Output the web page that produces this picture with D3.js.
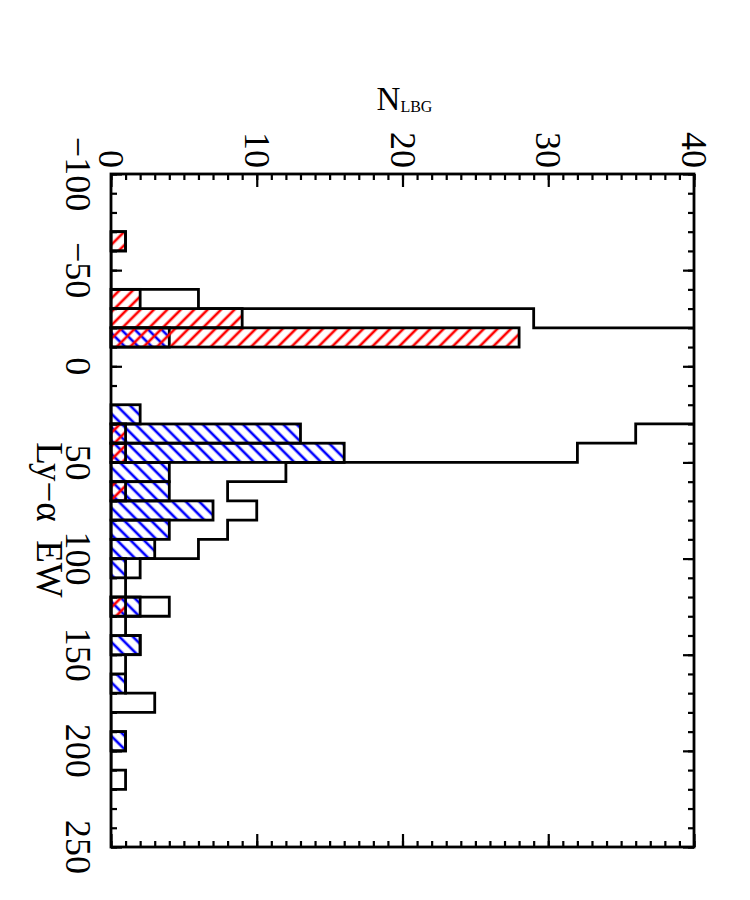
<!DOCTYPE html>
<html lang="en">
<head>
<meta charset="UTF-8">
<title>Ly-alpha EW histogram</title>
<script src="https://d3js.org/d3.v7.min.js"></script>
<style>
    body { margin: 0; background: #fff; }
    text { font-family: "Liberation Serif", "Times New Roman", serif; fill: #000; }
</style>
</head>
<body>
<div id="chart"></div>
<script>
// lower edge of each EW bin (bin width 10)
var binLo = [-70, -60, -50, -40, -30, -20, -10, 0, 10, 20, 30, 40, 50, 60, 70, 80, 90, 100,
             110, 120, 130, 140, 150, 160, 170, 180, 190, 200, 210];
// full sample (values near 0 run off the top of the plot)
var allCounts = [1, 0, 0, 6, 29, 48, 62, 70, 58, 44, 36, 32, 12, 8, 10, 8, 6, 2,
                 1, 4, 1, 2, 1, 1, 3, 0, 1, 0, 1];
var redCounts = [1, 0, 0, 2, 9, 28, 0, 0, 0, 0, 1, 1, 0, 1, 0, 0, 0, 0,
                 0, 1, 0, 0, 0, 0, 0, 0, 0, 0, 0];
var blueCounts = [0, 0, 0, 0, 0, 4, 0, 0, 0, 2, 13, 16, 4, 4, 7, 4, 3, 1,
                  0, 2, 0, 2, 0, 1, 0, 0, 1, 0, 0];
var binWidth = 10;

var ewTicks = [-100, -50, 0, 50, 100, 150, 200, 250];
var nTicks = [0, 10, 20, 30, 40];

var W = 750, H = 900;
var plot = {left: 111, right: 694, top: 174, bottom: 847};

var svg = d3.select("#chart").append("svg")
    .attr("width", W).attr("height", H);

var x = d3.scaleLinear().domain([0, 40]).range([plot.left, plot.right]);
var y = d3.scaleLinear().domain([-100, 250]).range([plot.top, plot.bottom]);

// hatch patterns
var defs = svg.append("defs");
function hatch(id, color, angle) {
    defs.append("pattern")
        .attr("id", id)
        .attr("patternUnits", "userSpaceOnUse")
        .attr("width", 9.5).attr("height", 9.5)
        .attr("patternTransform", "rotate(" + angle + ")")
      .append("line")
        .attr("x1", 4.75).attr("y1", -1).attr("x2", 4.75).attr("y2", 10.5)
        .attr("stroke", color).attr("stroke-width", 2.6);
}
hatch("hatchRed", "#ff0000", 45);
hatch("hatchBlue", "#0000ff", -45);

defs.append("clipPath").attr("id", "plotClip")
  .append("rect")
    .attr("x", plot.left).attr("y", plot.top)
    .attr("width", plot.right - plot.left).attr("height", plot.bottom - plot.top);

var bins = binLo.map(function(b, i) {
    return {lo: b, all: allCounts[i], red: redCounts[i], blue: blueCounts[i]};
});

function drawBars(key, pat) {
    svg.append("g")
        .selectAll("rect")
        .data(bins.filter(function(d) { return d[key] > 0; }))
        .enter()
        .append("rect")
        .attr("x", x(0))
        .attr("y", function(d) { return y(d.lo); })
        .attr("width", function(d) { return x(d[key]) - x(0); })
        .attr("height", function(d) { return y(d.lo + binWidth) - y(d.lo); })
        .attr("fill", "url(#" + pat + ")")
        .attr("stroke", "#000")
        .attr("stroke-width", 2.8);
}
drawBars("blue", "hatchBlue");
drawBars("red", "hatchRed");

// full sample as a step outline
var pts = [[x(0), y(binLo[0])]];
bins.forEach(function(d) {
    pts.push([x(d.all), y(d.lo)]);
    pts.push([x(d.all), y(d.lo + binWidth)]);
});
pts.push([x(0), y(binLo[binLo.length - 1] + binWidth)]);
svg.append("path")
    .attr("d", d3.line()(pts))
    .attr("fill", "none")
    .attr("stroke", "#000")
    .attr("stroke-width", 2.8)
    .attr("clip-path", "url(#plotClip)");

// frame
svg.append("rect")
    .attr("x", plot.left).attr("y", plot.top)
    .attr("width", plot.right - plot.left).attr("height", plot.bottom - plot.top)
    .attr("fill", "none").attr("stroke", "#000").attr("stroke-width", 2.8);

// ticks (all pointing inward)
var nMinor = d3.range(0, 41, 1), ewMinor = d3.range(-100, 251, 10);
function ticks(axis, tr) {
    var g = svg.append("g").attr("transform", tr).call(axis);
    g.select(".domain").remove();
    g.selectAll("line").attr("stroke", "#000").attr("stroke-width", 2.2);
}
ticks(d3.axisBottom(x).tickValues(nMinor).tickSize(6).tickFormat(""), "translate(0," + plot.top + ")");
ticks(d3.axisBottom(x).tickValues(nTicks).tickSize(13).tickFormat(""), "translate(0," + plot.top + ")");
ticks(d3.axisTop(x).tickValues(nMinor).tickSize(6).tickFormat(""), "translate(0," + plot.bottom + ")");
ticks(d3.axisTop(x).tickValues(nTicks).tickSize(13).tickFormat(""), "translate(0," + plot.bottom + ")");
ticks(d3.axisRight(y).tickValues(ewMinor).tickSize(6).tickFormat(""), "translate(" + plot.left + ",0)");
ticks(d3.axisRight(y).tickValues(ewTicks).tickSize(11).tickFormat(""), "translate(" + plot.left + ",0)");
ticks(d3.axisLeft(y).tickValues(ewMinor).tickSize(6).tickFormat(""), "translate(" + plot.right + ",0)");
ticks(d3.axisLeft(y).tickValues(ewTicks).tickSize(11).tickFormat(""), "translate(" + plot.right + ",0)");

function fmt(v) { return v < 0 ? "\u2212" + Math.abs(v) : String(v); }

// N labels along the top, rotated
svg.append("g").selectAll("text")
    .data(nTicks).enter().append("text")
    .attr("transform", function(d) { return "translate(" + (x(d) - 12) + "," + (plot.top - 6) + ") rotate(90)"; })
    .attr("text-anchor", "end")
    .style("font-size", "36px")
    .text(fmt);

// EW labels along the left, rotated
svg.append("g").selectAll("text")
    .data(ewTicks).enter().append("text")
    .attr("transform", function(d) { return "translate(66," + y(d) + ") rotate(90)"; })
    .attr("text-anchor", "middle")
    .style("font-size", "36px")
    .text(fmt);

// axis titles
var nt = svg.append("text")
    .attr("x", (plot.left + plot.right) / 2 + 2).attr("y", 110)
    .attr("text-anchor", "middle")
    .style("font-size", "33px");
nt.append("tspan").text("N");
nt.append("tspan").style("font-size", "16px").attr("dy", 2).text("LBG");

svg.append("text")
    .attr("transform", "translate(37,520) rotate(90)")
    .attr("text-anchor", "middle")
    .style("font-size", "37px")
    .style("white-space", "pre")
    .text("Ly\u2212\u03b1  EW");
</script>
</body>
</html>
